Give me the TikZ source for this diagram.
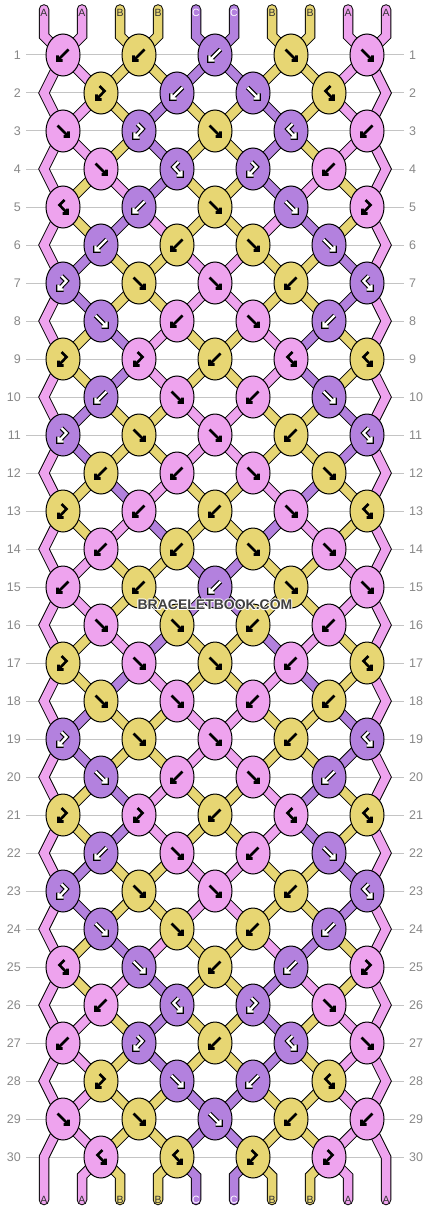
\documentclass[tikz,border=0pt]{standalone}
\usepackage{fontspec}
\setmainfont{Liberation Sans}
\usepackage{xstring}
\usetikzlibrary{shapes.geometric}
\pgfdeclarelayer{paper}
\pgfdeclarelayer{grid}
\pgfdeclarelayer{strings}
\pgfsetlayers{paper,grid,strings,main}

\definecolor{cA}{RGB}{238,163,238}
\definecolor{cB}{RGB}{231,214,115}
\definecolor{cC}{RGB}{179,129,222}
\definecolor{tA}{RGB}{50,50,50}
\definecolor{tB}{RGB}{50,50,50}
\definecolor{tC}{RGB}{255,255,255}
\definecolor{gridgrey}{RGB}{196,196,196}
\definecolor{labgrey}{RGB}{136,136,136}
\definecolor{markgrey}{RGB}{64,64,64}

\newcommand\setst[2]{\expandafter\def\csname st#1\endcsname{#2}}
\newcommand\setty[2]{\expandafter\def\csname ty#1\endcsname{#2}}

% string colours after each row
\setst{0}{AABBCCBBAA}
\setst{1}{AABBCCBBAA}
\setst{2}{AABCBBCBAA}
\setst{3}{AABCBBCBAA}
\setst{4}{ABACBBCABA}
\setst{5}{ABCABBACBA}
\setst{6}{ACBBAABBCA}
\setst{7}{ACBBAABBCA}
\setst{8}{ABCABBACBA}
\setst{9}{ABCABBACBA}
\setst{10}{ACBBAABBCA}
\setst{11}{ACBBAABBCA}
\setst{12}{ABCABBACBA}
\setst{13}{ABACBBCABA}
\setst{14}{AABBCCBBAA}
\setst{15}{AABBCCBBAA}
\setst{16}{ABACBBCABA}
\setst{17}{ABCABBACBA}
\setst{18}{ACBBAABBCA}
\setst{19}{ACBBAABBCA}
\setst{20}{ABCABBACBA}
\setst{21}{ABCABBACBA}
\setst{22}{ACBBAABBCA}
\setst{23}{ACBBAABBCA}
\setst{24}{ABCABBACBA}
\setst{25}{ABACBBCABA}
\setst{26}{AABCBBCBAA}
\setst{27}{AABCBBCBAA}
\setst{28}{AABBCCBBAA}
\setst{29}{AABBCCBBAA}
\setst{30}{AABBCCBBAA}

% knot types: f forward, b backward, p left string stays, q right string stays
\setty{1}{bbbff}
\setty{2}{qbfp}
\setty{3}{fqfpb}
\setty{4}{fpqb}
\setty{5}{pbffq}
\setty{6}{bbff}
\setty{7}{qffbp}
\setty{8}{fbfb}
\setty{9}{qqbpp}
\setty{10}{bfbf}
\setty{11}{qffbp}
\setty{12}{bbff}
\setty{13}{qbbfp}
\setty{14}{bbff}
\setty{15}{bbbff}
\setty{16}{ffbb}
\setty{17}{qffbp}
\setty{18}{ffbb}
\setty{19}{qffbp}
\setty{20}{fbfb}
\setty{21}{qqbpp}
\setty{22}{bfbf}
\setty{23}{qffbp}
\setty{24}{ffbb}
\setty{25}{pfbbq}
\setty{26}{bpqf}
\setty{27}{bqbpf}
\setty{28}{qfbp}
\setty{29}{fffbb}
\setty{30}{ppqq}

\newcommand\glyphpath[3]{%
  \IfStrEqCase{#1}{%
    {f}{\draw[#2,line width=#3] (-5.5,-5.5) -- (5.5,5.5) (0.5,5.5) -- (5.5,5.5) -- (5.5,0.5);}%
    {b}{\draw[#2,line width=#3] (5.5,-5.5) -- (-5.5,5.5) (-0.5,5.5) -- (-5.5,5.5) -- (-5.5,0.5);}%
    {p}{\draw[#2,line width=#3] (1.5,-7) -- (-3.5,-2) -- (4.5,6.5) (-0.5,6.5) -- (4.5,6.5) -- (4.5,1.5);}%
    {q}{\draw[#2,line width=#3] (-1.5,-7) -- (3.5,-2) -- (-4.5,6.5) (0.5,6.5) -- (-4.5,6.5) -- (-4.5,1.5);}%
  }}
\newcommand\drawglyph[4]{%
  \begin{scope}[shift={(#3,#4)}, line join=miter]
    \IfStrEq{#2}{C}{\glyphpath{#1}{black}{4.6pt}\glyphpath{#1}{white}{2.4pt}}{\glyphpath{#1}{black}{2.6pt}}%
  \end{scope}}

\begin{document}
\begin{tikzpicture}[x=1pt,y=-1pt,
  knot/.style={ellipse, draw=black, line width=1pt, minimum width=34pt, minimum height=42pt, inner sep=0pt},
  strand/.style={draw=black, line width=1pt, double distance=8.5pt, line join=miter, line cap=round},
  gridline/.style={draw=gridgrey, line width=1pt},
  rowlab/.style={text=labgrey, font=\fontsize{12.5}{14}\selectfont, inner sep=0pt},
  endlab/.style={font=\fontsize{10.5}{12}\selectfont, inner sep=0pt},
  wmark/.style={text=markgrey, font=\bfseries\fontsize{14}{16}\selectfont, inner sep=0pt},
  wmhalo/.style={text=white, font=\bfseries\fontsize{14}{16}\selectfont, inner sep=0pt, opacity=0.85}]

\begin{pgfonlayer}{paper}
\fill[white] (0,0) rectangle (430,1212);
\end{pgfonlayer}
\path[use as bounding box] (0,0) rectangle (430,1212);

% grid lines and row numbers
\begin{pgfonlayer}{grid}
\foreach \rr in {1,...,30} {
  \pgfmathtruncatemacro{\KY}{55+38*(\rr-1)}
  \draw[gridline] (26,\KY) -- (404,\KY);
}
\end{pgfonlayer}
\foreach \rr in {1,...,30} {
  \pgfmathtruncatemacro{\KY}{55+38*(\rr-1)}
  \node[rowlab, anchor=east] (ll-\rr) at (21,\KY) {\rr};
  \node[rowlab, anchor=west] (rl-\rr) at (409,\KY) {\rr};
}

% end coordinates and end labels
\edef\stz{\csname st0\endcsname}
\edef\stl{\csname st30\endcsname}
\foreach \ii in {1,...,10} {
  \pgfmathtruncatemacro{\XX}{6+38*\ii}
  \coordinate (top-\ii) at (\XX,9.5);
  \coordinate (bot-\ii) at (\XX,1200);
  \StrChar{\stz}{\ii}[\scol]
  \node[endlab, text=t\scol] (tl-\ii) at (\XX,13) {\scol};
  \StrChar{\stl}{\ii}[\scol]
  \node[endlab, text=t\scol] (bl-\ii) at (\XX,1200) {\scol};
}

% knots
\foreach \rr in {1,...,30} {
  \pgfmathtruncatemacro{\odd}{mod(\rr,2)}
  \pgfmathtruncatemacro{\rp}{\rr-1}
  \pgfmathtruncatemacro{\KY}{55+38*(\rr-1)}
  \edef\prevst{\csname st\rp\endcsname}
  \edef\types{\csname ty\rr\endcsname}
  \pgfmathtruncatemacro{\nk}{\odd==1 ? 5 : 4}
  \foreach \kk in {1,...,\nk} {
    \pgfmathtruncatemacro{\jj}{\odd==1 ? 2*\kk-1 : 2*\kk}
    \pgfmathtruncatemacro{\jp}{\jj+1}
    \pgfmathtruncatemacro{\KX}{25+38*\jj}
    \StrChar{\types}{\kk}[\kt]
    \IfSubStr{fp}{\kt}{\StrChar{\prevst}{\jj}[\kc]}{\StrChar{\prevst}{\jp}[\kc]}
    \node[knot, fill=c\kc] (k-\rr-\jj) at (\KX,\KY) {};
    \drawglyph{\kt}{\kc}{\KX}{\KY}
  }
}

% strings
\begin{pgfonlayer}{strings}
\foreach \ii in {1,...,10} {
  \pgfmathtruncatemacro{\jj}{mod(\ii,2)==1 ? \ii : \ii-1}
  \pgfmathtruncatemacro{\XX}{6+38*\ii}
  \StrChar{\stz}{\ii}[\scol]
  \draw[strand, double=c\scol] (top-\ii) -- (\XX,36) -- (k-1-\jj.center);
}
\foreach \rr in {1,...,29} {
  \pgfmathtruncatemacro{\odd}{mod(\rr,2)}
  \pgfmathtruncatemacro{\rn}{\rr+1}
  \pgfmathtruncatemacro{\rnn}{\rr+2}
  \pgfmathtruncatemacro{\Yn}{55+38*\rr}
  \edef\cur{\csname st\rr\endcsname}
  \pgfmathtruncatemacro{\nk}{\odd==1 ? 5 : 4}
  \foreach \kk in {1,...,\nk} {
    \pgfmathtruncatemacro{\jj}{\odd==1 ? 2*\kk-1 : 2*\kk}
    \pgfmathtruncatemacro{\jm}{\jj-1}
    \pgfmathtruncatemacro{\jp}{\jj+1}
    \StrChar{\cur}{\jj}[\lcol]
    \StrChar{\cur}{\jp}[\rcol]
    \ifnum\jj=1
      \ifnum\rr=29
        \draw[strand, double=c\lcol] (k-\rr-1.center) -- (44,\Yn) -- (bot-1);
      \else
        \draw[strand, double=c\lcol] (k-\rr-1.center) -- (44,\Yn) -- (k-\rnn-1.center);
      \fi
    \else
      \draw[strand, double=c\lcol] (k-\rr-\jj.center) -- (k-\rn-\jm.center);
    \fi
    \ifnum\jp=10
      \ifnum\rr=29
        \draw[strand, double=c\rcol] (k-\rr-9.center) -- (386,\Yn) -- (bot-10);
      \else
        \draw[strand, double=c\rcol] (k-\rr-9.center) -- (386,\Yn) -- (k-\rnn-9.center);
      \fi
    \else
      \draw[strand, double=c\rcol] (k-\rr-\jj.center) -- (k-\rn-\jp.center);
    \fi
  }
}
\foreach \jj in {2,4,6,8} {
  \pgfmathtruncatemacro{\jp}{\jj+1}
  \pgfmathtruncatemacro{\XL}{6+38*\jj}
  \pgfmathtruncatemacro{\XR}{6+38*\jp}
  \StrChar{\stl}{\jj}[\lcol]
  \StrChar{\stl}{\jp}[\rcol]
  \draw[strand, double=c\lcol] (k-30-\jj.center) -- (\XL,1176) -- (bot-\jj);
  \draw[strand, double=c\rcol] (k-30-\jj.center) -- (\XR,1176) -- (bot-\jp);
}
\end{pgfonlayer}

% watermark with a light halo
\foreach \dx/\dy [count=\hh] in {-1/0,1/0,0/-1,0/1,-0.7/-0.7,0.7/0.7,-0.7/0.7,0.7/-0.7} {
  \node[wmhalo] (wmh-\hh) at (215+\dx,605+\dy) {BRACELETBOOK.COM};
}
\node[wmark] (wm) at (215,605) {BRACELETBOOK.COM};
\end{tikzpicture}
\end{document}
